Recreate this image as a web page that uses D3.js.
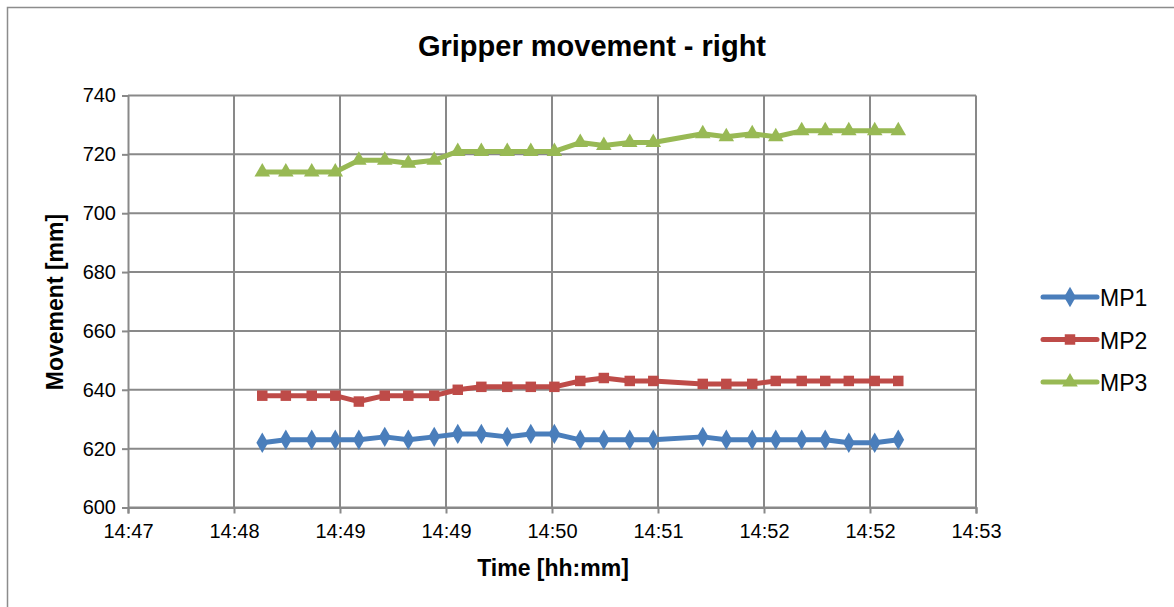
<!DOCTYPE html>
<html>
<head>
<meta charset="utf-8">
<script src="https://cdn.jsdelivr.net/npm/d3@7"></script>
<style>
  html, body { margin: 0; padding: 0; background: #fff; }
  svg { display: block; font-family: "Liberation Sans", Arial, sans-serif; }
</style>
</head>
<body>
<svg id="chart" width="1174" height="607"></svg>
<script>
// Sample times (hh:mm:ss) and measured gripper positions [mm]
const times = [
  "14:47:57", "14:48:07", "14:48:18", "14:48:28", "14:48:38", "14:48:49",
  "14:48:59", "14:49:10", "14:49:20", "14:49:30", "14:49:41", "14:49:51",
  "14:50:01", "14:50:12", "14:50:22", "14:50:33", "14:50:43", "14:51:04",
  "14:51:14", "14:51:25", "14:51:35", "14:51:46", "14:51:56", "14:52:06",
  "14:52:17", "14:52:27"
];
const mp1 = [622, 623, 623, 623, 623, 624, 623, 624, 625, 625, 624, 625, 625,
             623, 623, 623, 623, 624, 623, 623, 623, 623, 623, 622, 622, 623];
const mp2 = [638, 638, 638, 638, 636, 638, 638, 638, 640, 641, 641, 641, 641,
             643, 644, 643, 643, 642, 642, 642, 643, 643, 643, 643, 643, 643];
const mp3 = [714, 714, 714, 714, 718, 718, 717, 718, 721, 721, 721, 721, 721,
             724, 723, 724, 724, 727, 726, 727, 726, 728, 728, 728, 728, 728];
const seriesNames = ["MP1", "MP2", "MP3"];

// Axis ticks
const xTickTimes = ["14:47:00", "14:47:45", "14:48:30", "14:49:15", "14:50:00",
                    "14:50:45", "14:51:30", "14:52:15", "14:53:00"];
const xTickLabels = ["14:47", "14:48", "14:49", "14:49", "14:50", "14:51", "14:52", "14:52", "14:53"];
const yTicks = [600, 620, 640, 660, 680, 700, 720, 740];

const parseTime = d3.timeParse("%H:%M:%S");

const series = [
  { name: seriesNames[0], values: mp1, color: "#4a7ebb", marker: d3.symbolDiamond, size: 120 },
  { name: seriesNames[1], values: mp2, color: "#be4b48", marker: d3.symbolSquare, size: 110 },
  { name: seriesNames[2], values: mp3, color: "#98b954", marker: d3.symbolTriangle, size: 105 }
];

const svg = d3.select("#chart");
const plot = { left: 128, right: 976, top: 95.5, bottom: 507.5 };
const font = "'Liberation Sans', Arial, sans-serif";

// Chart frame
svg.append("rect")
  .attr("x", 7.5).attr("y", 7.5)
  .attr("width", 1200).attr("height", 700)
  .attr("fill", "#fff")
  .attr("stroke", "#8c8c8c").attr("stroke-width", 1.5);

const x = d3.scaleTime()
  .domain([parseTime(xTickTimes[0]), parseTime(xTickTimes[xTickTimes.length - 1])])
  .range([plot.left, plot.right]);
const y = d3.scaleLinear()
  .domain([600, 740])
  .range([plot.bottom, plot.top]);

const gridColor = "#898989";

// Horizontal gridlines
svg.append("g")
  .selectAll("line")
  .data(yTicks)
  .join("line")
  .attr("x1", plot.left).attr("x2", plot.right)
  .attr("y1", d => y(d)).attr("y2", d => y(d))
  .attr("stroke", gridColor).attr("stroke-width", 2);

// Vertical gridlines
svg.append("g")
  .selectAll("line")
  .data(xTickTimes.slice(1))
  .join("line")
  .attr("x1", d => x(parseTime(d))).attr("x2", d => x(parseTime(d)))
  .attr("y1", plot.top).attr("y2", plot.bottom)
  .attr("stroke", gridColor).attr("stroke-width", 2);

// Y axis
const yAxis = svg.append("g")
  .attr("transform", `translate(${plot.left},0)`)
  .call(d3.axisLeft(y).tickValues(yTicks).tickFormat(d3.format("d")).tickSize(6).tickPadding(6));
yAxis.select(".domain").attr("stroke", gridColor).attr("stroke-width", 2);
yAxis.selectAll(".tick line").attr("stroke", gridColor).attr("stroke-width", 2);
yAxis.selectAll(".tick text")
  .attr("font-size", 20).attr("fill", "#000")
  .attr("font-family", font);

// X axis
const xAxis = svg.append("g")
  .attr("transform", `translate(0,${plot.bottom})`)
  .call(d3.axisBottom(x)
    .tickValues(xTickTimes.map(parseTime))
    .tickFormat((d, i) => xTickLabels[i])
    .tickSize(6).tickPadding(10));
xAxis.select(".domain").attr("stroke", gridColor).attr("stroke-width", 2);
xAxis.selectAll(".tick line").attr("stroke", gridColor).attr("stroke-width", 2);
xAxis.selectAll(".tick text")
  .attr("font-size", 20).attr("fill", "#000")
  .attr("font-family", font);

// Series lines and markers
const line = d3.line()
  .x((d, i) => x(parseTime(times[i])))
  .y(d => y(d));

series.forEach(s => {
  const g = svg.append("g");
  g.append("path")
    .datum(s.values)
    .attr("d", line)
    .attr("fill", "none")
    .attr("stroke", s.color)
    .attr("stroke-width", 5)
    .attr("stroke-linejoin", "round")
    .attr("stroke-linecap", "round");
  g.selectAll("path.marker")
    .data(s.values)
    .join("path")
    .attr("class", "marker")
    .attr("d", d3.symbol().type(s.marker).size(s.size))
    .attr("transform", (d, i) => `translate(${x(parseTime(times[i]))},${y(d)})`)
    .attr("fill", s.color);
});

// Title
svg.append("text")
  .attr("x", 592).attr("y", 56)
  .attr("text-anchor", "middle")
  .attr("font-size", 29).attr("font-weight", "bold")
  .attr("font-family", font)
  .text("Gripper movement - right");

// Axis titles
svg.append("text")
  .attr("transform", "translate(63,302) rotate(-90)")
  .attr("text-anchor", "middle")
  .attr("font-size", 23).attr("font-weight", "bold")
  .attr("font-family", font)
  .text("Movement [mm]");

svg.append("text")
  .attr("x", 553).attr("y", 576)
  .attr("text-anchor", "middle")
  .attr("font-size", 23).attr("font-weight", "bold")
  .attr("font-family", font)
  .text("Time [hh:mm]");

// Legend
const legend = svg.append("g");
series.forEach((s, i) => {
  const ly = 297 + i * 42.5;
  const item = legend.append("g");
  item.append("line")
    .attr("x1", 1043).attr("x2", 1097)
    .attr("y1", ly).attr("y2", ly)
    .attr("stroke", s.color).attr("stroke-width", 5)
    .attr("stroke-linecap", "round");
  item.append("path")
    .attr("d", d3.symbol().type(s.marker).size(s.size))
    .attr("transform", `translate(1070,${ly})`)
    .attr("fill", s.color);
  item.append("text")
    .attr("x", 1100).attr("y", ly + 9)
    .attr("font-size", 23)
    .attr("font-family", font)
    .text(s.name);
});
</script>
</body>
</html>
